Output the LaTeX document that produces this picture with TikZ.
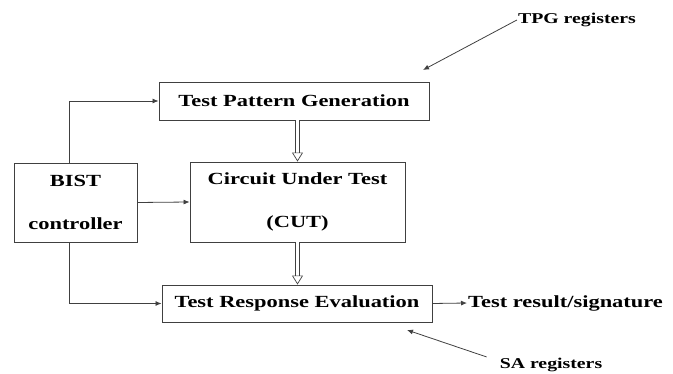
\documentclass[tikz,border=0pt]{standalone}
\usepackage{fontspec}
\setmainfont{Liberation Serif}[FakeStretch=1.32]
\usetikzlibrary{calc,arrows.meta}
\tikzstyle{blk}=[draw=black!75, line width=0.9pt, inner sep=0, font=\fontsize{17}{19}\selectfont\bfseries, align=center]
\tikzstyle{lbl}=[inner sep=1pt, font=\fontsize{17}{19}\selectfont\bfseries]
\tikzstyle{smalllbl}=[inner sep=1pt, font=\fontsize{15}{17}\selectfont\bfseries]
\tikzstyle{con}=[draw=black!75, line width=0.8pt, -{Latex[length=6pt,width=5pt]}]
\tikzstyle{hollow}=[draw=black!75, line width=0.7pt, double distance=3.5pt, -{Triangle[open,length=9pt,width=11pt]}]

\begin{document}
\begin{tikzpicture}[x=1pt,y=-1pt]
\useasboundingbox (0,0) rectangle (673,374);
\node[blk, minimum width=270pt, minimum height=38pt] (tpg) at (294,101) {Test Pattern Generation};
\node[blk, minimum width=215pt, minimum height=80pt] (cut) at (297.5,202) {Circuit Under Test\\[24pt](CUT)};
\node[blk, minimum width=123pt, minimum height=79pt] (bist) at (75.5,202.5) {BIST\\[24pt]controller};
\node[blk, minimum width=270pt, minimum height=37pt] (tre) at (297,303.5) {Test Response Evaluation};
\node[lbl, anchor=west] (res) at (467,303) {Test result/signature};
\node[smalllbl] (tpgreg) at (577,20) {TPG registers};
\node[smalllbl] (sareg) at (551,365) {SA registers};
\coordinate (tpgtip) at (423,70);
\coordinate (satip) at (407,330);
\coordinate (tap) at ($(bist.north west)!0.45!(bist.north east)$);
\coordinate (bap) at ($(bist.south west)!0.45!(bist.south east)$);
\draw[con] (tap) |- (tpg.west);
\draw[con] (bap) |- (tre.west);
\draw[con] (bist.east) -- (cut.west);
\draw[con] (tre.east) -- (res.west);
\draw[hollow] (tpg.south -| cut.north) -- (cut.north);
\draw[hollow] (cut.south) -- (tre.north -| cut.south);
\draw[con] (tpgreg.west) -- (tpgtip);
\draw[con] ($(sareg.north west)+(-12,0)$) -- (satip);
\end{tikzpicture}
\end{document}
